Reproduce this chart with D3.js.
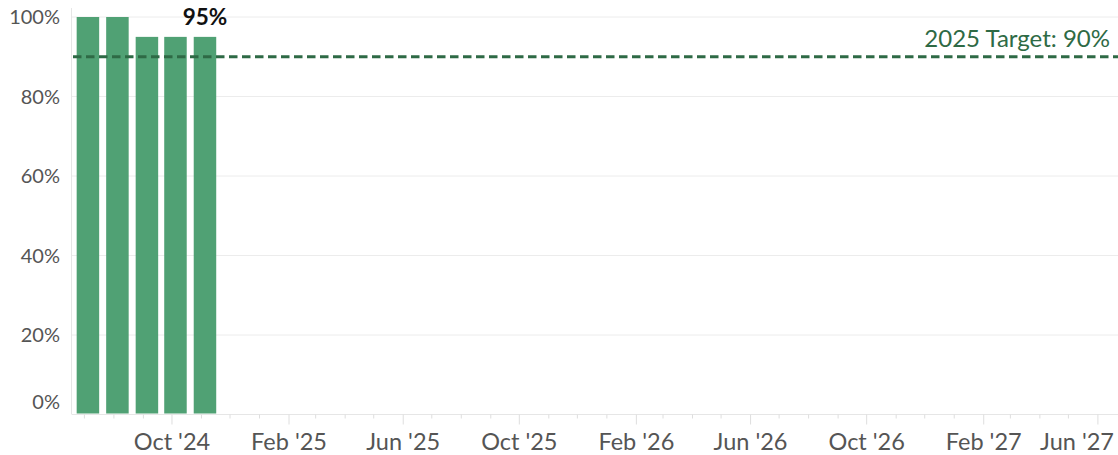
<!DOCTYPE html>
<html>
<head>
<meta charset="utf-8">
<script src="https://cdn.jsdelivr.net/npm/d3@7"></script>
<style>
  body { margin: 0; background: #fff; }
  svg { display: block; font-family: "Lato", "Liberation Sans", sans-serif; }
</style>
</head>
<body>
<svg id="chart" width="1118" height="455"></svg>
<script>
// data
const months = ["2024-07-01", "2024-08-01", "2024-09-01", "2024-10-01", "2024-11-01"];
const values = [100, 100, 95, 95, 95];
const yTicks = [0, 20, 40, 60, 80, 100];
const targetValue = 90;
const targetLabel = "2025 Target: 90%";
const xDomain = ["2024-06-19", "2027-06-20"];

const parse = d3.timeParse("%Y-%m-%d");
const W = 1118, H = 455;
const mLeft = 73, mRight = 1116, mTop = 17, mBottom = 414.5;

const svg = d3.select("#chart");

const x = d3.scaleTime().domain(xDomain.map(parse)).range([mLeft, mRight]);
const y = d3.scaleLinear().domain([0, 100]).range([mBottom, mTop]);

const barW = 22.5, barShift = 3.5;
const green = "#50a174", dark = "#2e6a45";

// grid
svg.append("g")
  .selectAll("line")
  .data(yTicks.filter(d => d > 0))
  .join("line")
    .attr("x1", mLeft - 1).attr("x2", W)
    .attr("y1", d => y(d)).attr("y2", d => y(d))
    .attr("stroke", "#ececec").attr("stroke-width", 1);

// y axis line
svg.append("line")
  .attr("x1", mLeft - 1.5).attr("x2", mLeft - 1.5)
  .attr("y1", 8).attr("y2", mBottom)
  .attr("stroke", "#e6e6e6");

// y labels
svg.append("g")
  .selectAll("text")
  .data(yTicks)
  .join("text")
    .attr("x", 60)
    .attr("y", d => d === 0 ? y(d) - 13 : y(d))
    .attr("dy", "0.36em")
    .attr("text-anchor", "end")
    .attr("fill", "#555")
    .style("font-size", "20px")
    .text(d => d + "%");

// x axis baseline and ticks
svg.append("line")
  .attr("x1", mLeft - 1).attr("x2", W)
  .attr("y1", mBottom).attr("y2", mBottom)
  .attr("stroke", "#e6e6e6");

const allMonths = d3.timeMonth.range(x.domain()[0], x.domain()[1]);
const isMajor = d => [1, 5, 9].includes(d.getMonth());
const fmt = d3.timeFormat("%b '%y");

svg.append("g")
  .selectAll("line")
  .data(allMonths)
  .join("line")
    .attr("x1", d => x(d)).attr("x2", d => x(d))
    .attr("y1", mBottom).attr("y2", d => isMajor(d) ? mBottom + 10 : mBottom + 4)
    .attr("stroke", "#dedede");

svg.append("g")
  .selectAll("text")
  .data(allMonths.filter(isMajor))
  .join("text")
    .attr("x", d => x(d))
    .attr("y", 450)
    .attr("text-anchor", "middle")
    .attr("fill", "#555")
    .style("font-size", "23.5px")
    .text(d => fmt(d))
    .each(function() {
      // keep the last label inside the frame
      const b = this.getBBox();
      if (b.x + b.width > W - 4) {
        d3.select(this).attr("x", +d3.select(this).attr("x") - (b.x + b.width - (W - 4)));
      }
    });

// bars
svg.append("g")
  .selectAll("rect")
  .data(months.map((m, i) => ({ date: parse(m), value: values[i] })))
  .join("rect")
    .attr("x", d => x(d.date) + barShift - barW / 2)
    .attr("width", barW)
    .attr("y", d => y(d.value))
    .attr("height", d => y(0) - y(d.value) - 1)
    .attr("fill", green);

// last value label
const lastI = values.length - 1;
svg.append("text")
  .attr("x", x(parse(months[lastI])) + barShift)
  .attr("y", 25)
  .attr("text-anchor", "middle")
  .attr("fill", "#111")
  .style("font-size", "22.5px")
  .style("font-weight", "bold")
  .text(values[lastI] + "%");

// target line
svg.append("line")
  .attr("x1", mLeft).attr("x2", W)
  .attr("y1", y(targetValue)).attr("y2", y(targetValue))
  .attr("stroke", dark)
  .attr("stroke-width", 3)
  .attr("stroke-dasharray", "8.5,4.5");

svg.append("text")
  .attr("x", 1110)
  .attr("y", 47)
  .attr("text-anchor", "end")
  .attr("fill", dark)
  .style("font-size", "24px")
  .text(targetLabel);
</script>
</body>
</html>
